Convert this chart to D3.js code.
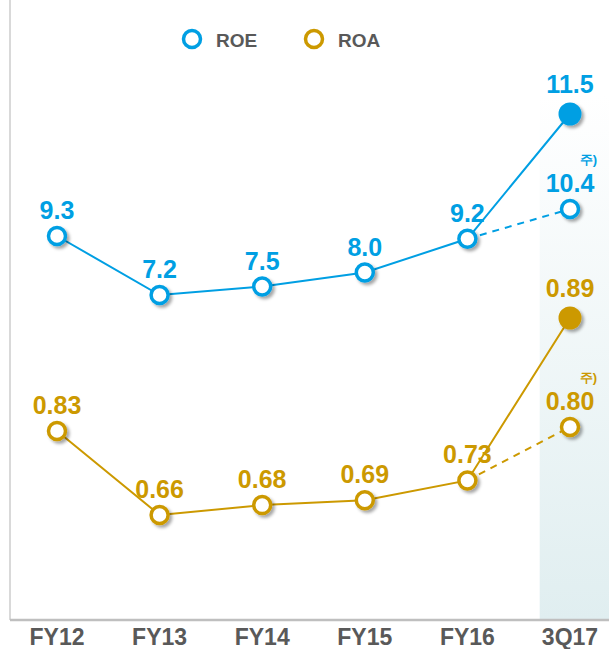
<!DOCTYPE html>
<html>
<head>
<meta charset="utf-8">
<script src="https://cdn.jsdelivr.net/npm/d3@7"></script>
<style>
	body { margin: 0; background: #fff; }
	text { font-family: 'Liberation Sans', Arial, sans-serif; font-weight: bold; }
</style>
</head>
<body>
<div id="chart"></div>
<script>
// chart values
const periods = ['FY12', 'FY13', 'FY14', 'FY15', 'FY16', '3Q17'];
const roe = [9.3, 7.2, 7.5, 8.0, 9.2, 11.5];
const roa = [0.83, 0.66, 0.68, 0.69, 0.73, 0.89];
// note-adjusted 3Q17 values (dashed branch, "주)")
const roeAdj = 10.4;
const roaAdj = 0.8;
const series = ['ROE', 'ROA'];

const width = 609;
const height = 649;
const blue = '#009fe3';
const gold = '#cc9900';

const svg = d3
	.select('#chart')
	.append('svg')
	.attr('width', width)
	.attr('height', height);

const defs = svg.append('defs');
const grad = defs
	.append('linearGradient')
	.attr('id', 'shade')
	.attr('x1', 0).attr('y1', 0)
	.attr('x2', 0).attr('y2', 1);
grad.append('stop').attr('offset', '0%').attr('stop-color', '#ffffff');
grad.append('stop').attr('offset', '100%').attr('stop-color', '#e0eef0');

const shadow = defs.append('filter').attr('id', 'shadow')
	.attr('x', '-50%').attr('y', '-50%').attr('width', '200%').attr('height', '200%');
shadow.append('feDropShadow')
	.attr('dx', 2.5).attr('dy', 2.5).attr('stdDeviation', 1.6)
	.attr('flood-color', '#000').attr('flood-opacity', 0.35);

const x = d3.scalePoint().domain(periods).range([57, 570]);
const step = x.step();
const baseY = 620;

// y scales: yearly part and the shaded 3Q17 panel have their own scale
const yRoe = d3.scaleLinear().domain([7.2, 9.3]).range([295, 236]);
const yRoeQ = d3.scaleLinear().domain([10.4, 11.5]).range([209, 114]);
const yRoa = d3.scaleLinear().domain([0.66, 0.83]).range([515, 431]);
const yRoaQ = d3.scaleLinear().domain([0.8, 0.89]).range([427, 318]);

// shaded 3Q17 band
const bandX = x('3Q17') - step / 2 + 21;
svg.append('rect')
	.attr('x', bandX)
	.attr('y', 95)
	.attr('width', width - bandX)
	.attr('height', baseY - 95)
	.attr('fill', 'url(#shade)');

// frame lines
svg.append('line')
	.attr('x1', 10).attr('x2', 10)
	.attr('y1', 0).attr('y2', baseY)
	.attr('stroke', '#d9d9d9').attr('stroke-width', 2);
svg.append('line')
	.attr('x1', 10).attr('x2', width)
	.attr('y1', baseY).attr('y2', baseY)
	.attr('stroke', '#bfbfbf').attr('stroke-width', 2.5);

// x labels
svg.append('g')
	.selectAll('text')
	.data(periods)
	.join('text')
	.attr('x', (d) => x(d))
	.attr('y', 645)
	.attr('text-anchor', 'middle')
	.attr('font-size', 23)
	.attr('fill', '#595959')
	.text((d) => d);

function drawSeries(values, adj, yMain, yQ, color, fmt) {
	const y = (p, v) => (p === '3Q17' ? yQ(v) : yMain(v));
	const g = svg.append('g');
	const line = d3.line()
		.x((d, i) => x(periods[i]))
		.y((d, i) => y(periods[i], d));
	g.append('path')
		.datum(values)
		.attr('d', line)
		.attr('fill', 'none')
		.attr('stroke', color)
		.attr('stroke-width', 2);
	// dashed branch to adjusted value
	g.append('line')
		.attr('x1', x('FY16')).attr('y1', y('FY16', values[4]))
		.attr('x2', x('3Q17')).attr('y2', y('3Q17', adj))
		.attr('stroke', color)
		.attr('stroke-width', 2)
		.attr('stroke-dasharray', '7,6');

	const pts = values.map((v, i) => ({ p: periods[i], v, filled: i === 5 }));
	pts.push({ p: '3Q17', v: adj, filled: false, note: true });

	g.selectAll('circle')
		.data(pts)
		.join('circle')
		.attr('cx', (d) => x(d.p))
		.attr('cy', (d) => y(d.p, d.v))
		.attr('r', (d) => (d.filled ? 11.5 : 8.5))
		.attr('fill', (d) => (d.filled ? color : '#fff'))
		.attr('stroke', color)
		.attr('stroke-width', (d) => (d.filled ? 0 : 3.5))
		.attr('filter', 'url(#shadow)');

	g.selectAll('text.val')
		.data(pts)
		.join('text')
		.attr('class', 'val')
		.attr('x', (d) => x(d.p))
		.attr('y', (d) => y(d.p, d.v) - (d.filled ? 21 : 17))
		.attr('text-anchor', 'middle')
		.attr('font-size', 25)
		.attr('fill', color)
		.text((d) => fmt(d.v));

	g.selectAll('text.note')
		.data(pts.filter((d) => d.note))
		.join('text')
		.attr('class', 'note')
		.attr('x', (d) => x(d.p) + 27)
		.attr('y', (d) => y(d.p, d.v) - 45)
		.attr('text-anchor', 'end')
		.attr('font-size', 13)
		.attr('fill', color)
		.text('주)');
}

drawSeries(roe, roeAdj, yRoe, yRoeQ, blue, d3.format('.1f'));
drawSeries(roa, roaAdj, yRoa, yRoaQ, gold, d3.format('.2f'));

// legend
const legend = svg.append('g')
	.selectAll('g')
	.data(series)
	.join('g')
	.attr('transform', (d, i) => `translate(${192 + i * 122},39)`);
legend.append('circle')
	.attr('r', 8.5)
	.attr('fill', '#fff')
	.attr('stroke', (d, i) => (i === 0 ? blue : gold))
	.attr('stroke-width', 3.5);
legend.append('text')
	.attr('x', 24)
	.attr('y', 7.5)
	.attr('font-size', 19)
	.attr('fill', '#595959')
	.text((d) => d);
</script>
</body>
</html>
